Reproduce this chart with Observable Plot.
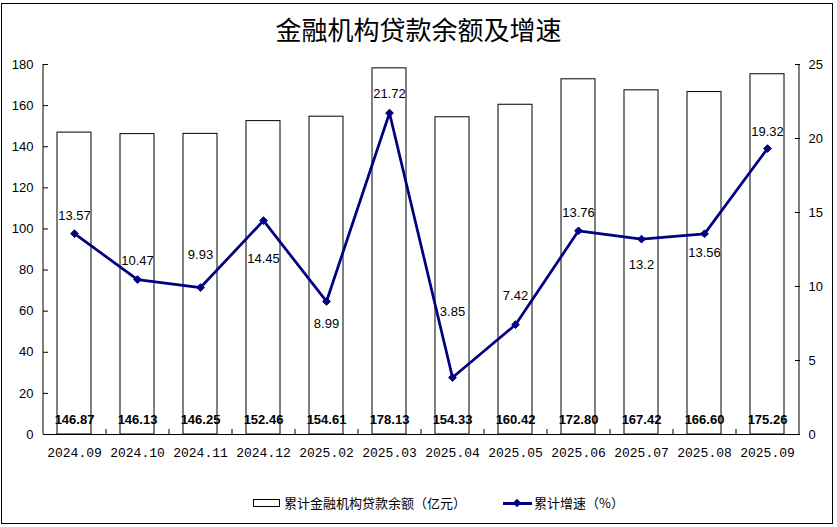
<!DOCTYPE html>
<html>
<head>
<meta charset="utf-8">
<script src="https://cdn.jsdelivr.net/npm/d3@7"></script>
<script src="https://cdn.jsdelivr.net/npm/@observablehq/plot@0.6"></script>
<style>
  body { margin: 0; background: #fff; }
  #wrap { position: relative; width: 837px; height: 527px; overflow: hidden; background: #fff; }
  #chart { position: absolute; left: 0; top: 0; }
  #frame { position: absolute; left: 1px; top: 3px; width: 832px; height: 521px; border: 1px solid #000; box-sizing: border-box; pointer-events: none; }
  #title { position: absolute; left: 0; top: 12px; width: 837px; text-align: center; font-family: "Noto Sans CJK SC", sans-serif; font-size: 26px; line-height: 34px; color: #000; }
  .lg { position: absolute; font-family: "Noto Sans CJK SC", sans-serif; font-size: 13px; line-height: 14px; color: #000; white-space: nowrap; }
  #sw1 { position: absolute; left: 253px; top: 499px; width: 27px; height: 8px; border: 1px solid #000; box-sizing: border-box; background: #fff; }
  #sw2 { position: absolute; left: 503px; top: 502px; width: 29px; height: 3px; background: #000080; }
  #sw2d { position: absolute; left: 514px; top: 500px; width: 6px; height: 6px; background: #000080; transform: rotate(45deg); }
</style>
</head>
<body>
<div id="wrap">
  <div id="chart"></div>
  <div id="title">金融机构贷款余额及增速</div>
  <div id="sw1"></div>
  <div class="lg" style="left:284px;top:496px;">累计金融机构贷款余额（亿元）</div>
  <div id="sw2"></div><div id="sw2d"></div>
  <div class="lg" style="left:534px;top:496px;">累计增速（%）</div>
  <div id="frame"></div>
</div>
<script>
const categories = ["2024.09","2024.10","2024.11","2024.12","2025.02","2025.03","2025.04","2025.05","2025.06","2025.07","2025.08","2025.09"];
const balance = [146.87,146.13,146.25,152.46,154.61,178.13,154.33,160.42,172.80,167.42,166.60,175.26];
const growth = [13.57,10.47,9.93,14.45,8.99,21.72,3.85,7.42,13.76,13.2,13.56,19.32];
const leftTicks = [0,20,40,60,80,100,120,140,160,180];
const rightTicks = [0,5,10,15,20,25];

// layout / style
const W = 837, H = 527;
const mL = 43, mR = 38, mT = 64, mB = 93;
const leftMax = 180, rightMax = 25;
const ratio = leftMax / rightMax;
const step = (W - mL - mR) / categories.length;
const pxPerUnit = (H - mT - mB) / leftMax;
const labelDy = [-18,-19,-33,38,22,-19,-66,-29,-18,26,19,-17];
const navy = "#000080";

const data = categories.map((c, i) => ({cat: c, bal: balance[i], g: growth[i], gy: growth[i] * ratio}));

const growthLabels = data.map((d, i) => Plot.text([d], {
  x: "cat", y: "gy", text: d => String(d.g), dy: labelDy[i],
  fontSize: 13, fill: "#000"
}));

const plot = Plot.plot({
  width: W, height: H,
  marginLeft: mL, marginRight: mR, marginTop: mT, marginBottom: mB,
  style: {fontFamily: "Liberation Sans, Arial, sans-serif", fontSize: "13px", color: "#000", background: "transparent"},
  x: {domain: categories, paddingInner: 0.46, paddingOuter: 0.23, label: null},
  y: {domain: [0, leftMax], nice: false, label: null},
  marks: [
    Plot.barY(data, {x: "cat", y: "bal", fill: "white", stroke: "black", strokeWidth: 1}),
    Plot.ruleY([0], {stroke: "black", strokeWidth: 1}),
    Plot.ruleX([categories[0]], {x: d => d, dx: -step / 2, stroke: "black"}),
    Plot.ruleX([categories[categories.length - 1]], {x: d => d, dx: step / 2, stroke: "black"}),
    Plot.ruleX(categories.slice(0, -1), {x: d => d, dx: step / 2, y1: 0, y2: 5 / pxPerUnit, stroke: "black"}),
    Plot.axisY(leftTicks, {anchor: "left", label: null, tickSize: -5, tickPadding: 15, fontSize: 13, fill: "#000"}),
    Plot.axisY(rightTicks.map(v => v * ratio), {anchor: "right", label: null, tickSize: -5, tickPadding: 14, tickFormat: d => String(Math.round(d / ratio)), fontSize: 13, fill: "#000"}),
    Plot.axisX({anchor: "bottom", label: null, tickSize: 0, tickPadding: 13, fontFamily: "Liberation Mono, monospace", fontSize: 13, fill: "#000"}),
    Plot.text(data, {x: "cat", y: () => 0, text: d => d.bal.toFixed(2), dy: -15, fontWeight: "bold", fontSize: 13, fill: "#000"}),
    Plot.line(data, {x: "cat", y: "gy", stroke: navy, strokeWidth: 2.75}),
    Plot.dot(data, {x: "cat", y: "gy", symbol: "diamond2", r: 3.5, fill: navy, stroke: navy, strokeWidth: 1}),
    ...growthLabels
  ]
});
document.getElementById("chart").appendChild(plot);
</script>
</body>
</html>
